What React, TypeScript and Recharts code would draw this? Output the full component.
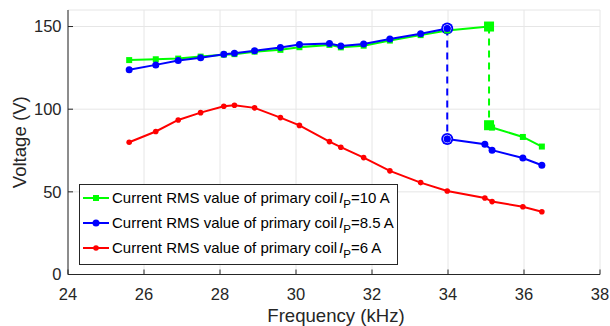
import React from 'react';
import { ComposedChart, Line, Scatter, XAxis, YAxis, CartesianGrid, Legend, Label } from 'recharts';

const FONT = '"Liberation Sans", Arial, Helvetica, sans-serif';
const AX = '#262626';

const xTicks = [24, 26, 28, 30, 32, 34, 36, 38];
const yTicks = [0, 50, 100, 150];

const greenUpperF = [25.61, 26.31, 26.9, 27.49, 28.1, 28.38, 28.91, 29.59, 30.09, 30.88, 31.18, 31.78, 32.47, 33.28, 33.98, 35.08];
const greenUpperV = [129.7, 130.2, 130.6, 131.8, 133.0, 133.3, 134.8, 135.9, 137.5, 138.9, 137.4, 138.4, 141.5, 144.8, 147.6, 150.0];
const greenLowerF = [35.08, 35.16, 35.97, 36.47];
const greenLowerV = [90.3, 88.9, 83.2, 77.4];

const blueUpperF = [25.61, 26.31, 26.9, 27.49, 28.1, 28.38, 28.91, 29.59, 30.09, 30.88, 31.18, 31.78, 32.47, 33.28, 33.98];
const blueUpperV = [123.8, 126.8, 129.4, 131.1, 133.3, 133.9, 135.3, 137.3, 139.1, 139.7, 138.2, 139.5, 142.4, 145.6, 148.8];
const blueLowerF = [33.98, 34.97, 35.16, 35.97, 36.47];
const blueLowerV = [82.0, 78.8, 75.2, 70.5, 66.1];

const redF = [25.61, 26.31, 26.9, 27.49, 28.1, 28.38, 28.91, 29.59, 30.09, 30.88, 31.18, 31.78, 32.47, 33.28, 33.98, 34.97, 35.16, 35.97, 36.47];
const redV = [80.0, 86.5, 93.5, 97.9, 101.8, 102.4, 100.8, 94.9, 90.2, 80.4, 77.0, 70.7, 62.7, 55.6, 50.5, 46.3, 44.1, 41.0, 38.0];

const legendLabels = ['=10 A', '=8.5 A', '=6 A'];
const legendPrefix = 'Current RMS value of primary coil';

const toPts = (fs: number[], vs: number[]) => fs.map((f, i) => ({ f, v: vs[i] }));

const greenUpper = toPts(greenUpperF, greenUpperV);
const greenLower = toPts(greenLowerF, greenLowerV);
const blueUpper = toPts(blueUpperF, blueUpperV);
const blueLower = toPts(blueLowerF, blueLowerV);
const red = toPts(redF, redV);

const greenJumpF = greenUpperF[greenUpperF.length - 1];
const greenDrop = toPts([greenJumpF, greenJumpF], [greenUpperV[greenUpperV.length - 1], greenLowerV[0]]);
const blueJumpF = blueUpperF[blueUpperF.length - 1];
const blueDrop = toPts([blueJumpF, blueJumpF], [blueUpperV[blueUpperV.length - 1], blueLowerV[0]]);

const GREEN = '#00ff00';
const BLUE = '#0000ff';
const RED = '#ff0000';

const squareDot = (props: any) => {
  const { cx, cy, index } = props;
  if (cx == null || cy == null) return <g key={index} />;
  return <rect key={index} x={cx - 3} y={cy - 3} width={6} height={6} fill={GREEN} />;
};
const blueDot = (props: any) => {
  const { cx, cy, index } = props;
  if (cx == null || cy == null) return <g key={index} />;
  return <circle key={index} cx={cx} cy={cy} r={3.5} fill={BLUE} />;
};
const redDot = (props: any) => {
  const { cx, cy, index } = props;
  if (cx == null || cy == null) return <g key={index} />;
  return <circle key={index} cx={cx} cy={cy} r={2.8} fill={RED} />;
};

const bigSquare = (props: any) => {
  const { cx, cy } = props;
  return <rect x={cx - 5} y={cy - 5} width={10} height={10} fill={GREEN} />;
};
const bigRing = (props: any) => {
  const { cx, cy } = props;
  return (
    <g>
      <circle cx={cx} cy={cy} r={6} fill={BLUE} />
      <circle cx={cx} cy={cy} r={3.8} fill="none" stroke="#ffffff" strokeWidth={0.9} />
    </g>
  );
};

const BottomTick = (props: any) => {
  const { x, y, payload } = props;
  return (
    <g>
      <line x1={x} y1={y} x2={x} y2={y - 5} stroke={AX} strokeWidth={1} />
      <text x={x} y={y + 25} textAnchor="middle" fill={AX} fontSize={16.5} fontFamily={FONT}>
        {payload.value}
      </text>
    </g>
  );
};
const TopTick = (props: any) => {
  const { x, y } = props;
  return <line x1={x} y1={y} x2={x} y2={y + 5} stroke={AX} strokeWidth={1} />;
};
const LeftTick = (props: any) => {
  const { x, y, payload } = props;
  return (
    <g>
      <line x1={x} y1={y} x2={x + 5} y2={y} stroke={AX} strokeWidth={1} />
      <text x={x - 6.5} y={y + 5.8} textAnchor="end" fill={AX} fontSize={16.5} fontFamily={FONT}>
        {payload.value}
      </text>
    </g>
  );
};
const RightTick = (props: any) => {
  const { x, y } = props;
  return <line x1={x} y1={y} x2={x - 5} y2={y} stroke={AX} strokeWidth={1} />;
};

const legendColors = [GREEN, BLUE, RED];

const LegendSample = ({ color, kind }: { color: string; kind: number }) => (
  <svg width={27} height={12} style={{ display: 'block', flex: 'none' }}>
    <line x1={1} y1={6} x2={27} y2={6} stroke={color} strokeWidth={2} />
    {kind === 0 ? (
      <rect x={11} y={3} width={6} height={6} fill={color} />
    ) : (
      <circle cx={14} cy={6} r={kind === 1 ? 3.5 : 2.8} fill={color} />
    )}
  </svg>
);

const renderLegend = () => (
  <div
    style={{
      width: 317,
      height: 79,
      border: `1px solid ${AX}`,
      background: '#ffffff',
      boxSizing: 'content-box',
      fontFamily: FONT,
      fontSize: 15,
      color: '#000',
      paddingTop: 0,
    }}
  >
    {legendLabels.map((lab, i) => (
      <div key={i} style={{ display: 'flex', alignItems: 'center', height: 25, paddingLeft: 2 }}>
        <LegendSample color={legendColors[i]} kind={i} />
        <span style={{ marginLeft: 3, whiteSpace: 'nowrap', lineHeight: '16px' }}>
          {legendPrefix}
          <span style={{ fontStyle: 'italic', marginLeft: 2 }}>I</span>
          <sub style={{ fontSize: 11.5, verticalAlign: -5, lineHeight: 0 }}>P</sub>
          {lab}
        </span>
      </div>
    ))}
  </div>
);

const XLabel = (props: any) => {
  const { viewBox } = props;
  return (
    <text
      x={viewBox.x + viewBox.width / 2 + 2}
      y={viewBox.y + 47}
      textAnchor="middle"
      fill={AX}
      fontSize={18.6}
      fontFamily={FONT}
    >
      Frequency (kHz)
    </text>
  );
};
const YLabel = (props: any) => {
  const { viewBox } = props;
  const cx = 25.5;
  const cy = viewBox.y + viewBox.height / 2;
  return (
    <text
      x={cx}
      y={cy}
      transform={`rotate(-90 ${cx} ${cy})`}
      textAnchor="middle"
      fill={AX}
      fontSize={18.6}
      fontFamily={FONT}
    >
      Voltage (V)
    </text>
  );
};

export default function App() {
  return (
    <div style={{ position: 'absolute', left: 0, top: 0, width: 610, height: 326, background: '#fff' }}>
      <ComposedChart width={610} height={326} margin={{ top: 10, right: 10, left: 0, bottom: 0 }}>
        <CartesianGrid stroke="#e6e6e6" strokeWidth={1} />
        <XAxis
          xAxisId={0}
          dataKey="f"
          type="number"
          domain={[24, 38]}
          ticks={xTicks}
          height={51.5}
          tickSize={0}
          tickMargin={0}
          tickLine={false}
          tick={<BottomTick />}
          axisLine={{ stroke: AX, strokeWidth: 1 }}
          allowDataOverflow
        >
          <Label content={<XLabel />} />
        </XAxis>
        <XAxis
          xAxisId="top"
          orientation="top"
          dataKey="f"
          type="number"
          domain={[24, 38]}
          ticks={xTicks}
          height={0}
          tickSize={0}
          tickMargin={0}
          tickLine={false}
          tick={<TopTick />}
          axisLine={{ stroke: AX, strokeWidth: 1 }}
          allowDataOverflow
        />
        <YAxis
          yAxisId={0}
          type="number"
          domain={[0, 160]}
          ticks={yTicks}
          width={68}
          tickSize={0}
          tickMargin={0}
          tickLine={false}
          tick={<LeftTick />}
          axisLine={{ stroke: AX, strokeWidth: 1 }}
          allowDataOverflow
        >
          <Label content={<YLabel />} />
        </YAxis>
        <YAxis
          yAxisId="right"
          orientation="right"
          type="number"
          domain={[0, 160]}
          ticks={yTicks}
          width={0}
          tickSize={0}
          tickMargin={0}
          tickLine={false}
          tick={<RightTick />}
          axisLine={{ stroke: AX, strokeWidth: 1 }}
          allowDataOverflow
        />
        <Legend
          content={renderLegend}
          layout="vertical"
          align="center"
          verticalAlign="middle"
          wrapperStyle={{ left: 79, top: 184, width: 'auto' }}
        />

        <Line data={red} dataKey="v" stroke={RED} strokeWidth={2} dot={redDot} isAnimationActive={false} />

        <Line data={greenDrop} dataKey="v" stroke={GREEN} strokeWidth={2} strokeDasharray="7 5" dot={false} isAnimationActive={false} />
        <Line data={greenUpper} dataKey="v" stroke={GREEN} strokeWidth={2} dot={squareDot} isAnimationActive={false} />
        <Line data={greenLower} dataKey="v" stroke={GREEN} strokeWidth={2} dot={squareDot} isAnimationActive={false} />
        <Scatter data={[greenUpper[greenUpper.length - 1], greenLower[0]]} dataKey="v" shape={bigSquare} isAnimationActive={false} />

        <Line data={blueDrop} dataKey="v" stroke={BLUE} strokeWidth={2} strokeDasharray="7 5" dot={false} isAnimationActive={false} />
        <Line data={blueUpper} dataKey="v" stroke={BLUE} strokeWidth={2} dot={blueDot} isAnimationActive={false} />
        <Line data={blueLower} dataKey="v" stroke={BLUE} strokeWidth={2} dot={blueDot} isAnimationActive={false} />
        <Scatter data={[blueUpper[blueUpper.length - 1], blueLower[0]]} dataKey="v" shape={bigRing} isAnimationActive={false} />
      </ComposedChart>
    </div>
  );
}
